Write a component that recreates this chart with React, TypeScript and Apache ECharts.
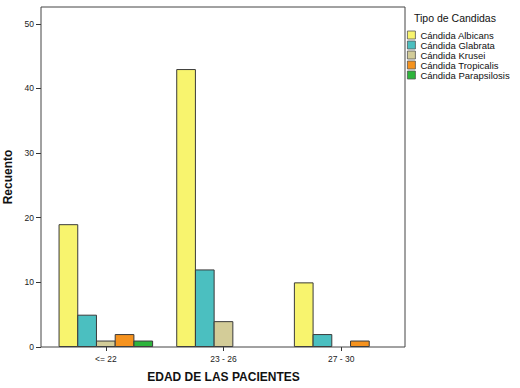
import React, { useEffect, useRef } from "react";
import * as echarts from "echarts";

const categories = ["<= 22", "23 - 26", "27 - 30"];
const seriesNames = [
  "Cándida Albicans",
  "Cándida Glabrata",
  "Cándida Krusei",
  "Cándida Tropicalis",
  "Cándida Parapsilosis",
];
const albicans = [19, 43, 10];
const glabrata = [5, 12, 2];
const krusei = [1, 4, null];
const tropicalis = [2, null, 1];
const parapsilosis = [1, null, null];
const colors = ["#F8F46E", "#4BBFC0", "#D3CC98", "#F5921E", "#2DB43C"];
const yTicks = [0, 10, 20, 30, 40, 50];

const FONT = "'Liberation Sans', Arial, sans-serif";

export default function App() {
  const ref = useRef<HTMLDivElement>(null);
  useEffect(() => {
    if (!ref.current) return;
    const chart = echarts.init(ref.current, null, { renderer: "svg" });
    const values = [albicans, glabrata, krusei, tropicalis, parapsilosis];
    chart.setOption({
      animation: false,
      backgroundColor: "#ffffff",
      textStyle: { fontFamily: FONT },
      grid: { left: 47, right: 120, top: 7, bottom: 41, containLabel: false, outerBoundsMode: "none" },
      legend: {
        orient: "vertical",
        left: 407,
        top: 30,
        padding: 0,
        itemWidth: 8,
        itemHeight: 8,
        itemGap: 0,
        icon: "rect",
        itemStyle: { borderColor: "#555", borderWidth: 0.8 },
        textStyle: { fontSize: 9.5, color: "#111", lineHeight: 10, fontFamily: FONT },
        data: seriesNames,
      },
      xAxis: {
        type: "category",
        data: categories,
        axisLine: { show: false },
        axisTick: { show: true, alignWithLabel: true, length: 4, lineStyle: { color: "#333" } },
        axisLabel: { fontSize: 8.5, color: "#222", margin: 7, fontFamily: FONT },
        name: "EDAD DE LAS PACIENTES",
        nameLocation: "middle",
        nameGap: 24,
        nameTextStyle: { fontSize: 12, fontWeight: "bold", color: "#111", fontFamily: FONT },
      },
      yAxis: {
        type: "value",
        min: 0,
        max: 52.6,
        interval: 10,
        offset: 6,
        axisLine: { show: false },
        axisTick: { show: true, length: 5, customValues: yTicks, lineStyle: { color: "#333" } },
        axisLabel: { fontSize: 8.5, color: "#222", margin: 7, customValues: yTicks, fontFamily: FONT },
        splitLine: { show: false },
        name: "Recuento",
        nameLocation: "middle",
        nameGap: 23,
        nameTextStyle: { fontSize: 12, fontWeight: "bold", color: "#111", fontFamily: FONT },
      },
      series: seriesNames.map((name, i) => ({
        name,
        type: "bar",
        data: values[i],
        barWidth: 19.7,
        barGap: "-5%",
        itemStyle: { color: colors[i], borderColor: "#3a3a3a", borderWidth: 1 },
      })),
      graphic: [
        {
          type: "rect",
          shape: { x: 41, y: 7, width: 364, height: 340 },
          style: { fill: "none", stroke: "#444", lineWidth: 1 },
          z: 100,
          silent: true,
        },
        {
          type: "text",
          left: 414,
          top: 12,
          style: { text: "Tipo de Candidas", fontSize: 10.5, fill: "#111", fontFamily: FONT },
        },
      ],
    });
    return () => chart.dispose();
  }, []);
  return (
    <div
      ref={ref}
      style={{ position: "fixed", left: 0, top: 0, width: 520, height: 388, background: "#fff" }}
    />
  );
}
